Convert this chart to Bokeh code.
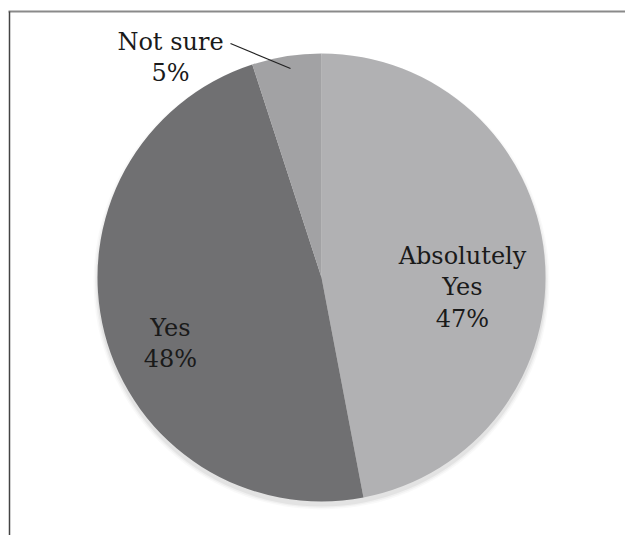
import math
from bokeh.plotting import figure
from bokeh.models import Range1d, ColumnDataSource
from bokeh.core.properties import value
from bokeh.embed import file_html
from bokeh.resources import INLINE

categories = ["Absolutely Yes", "Yes", "Not sure"]
percents = [47, 48, 5]
label_texts = ["Absolutely\nYes\n47%", "Yes\n48%", "Not sure\n5%"]
colors = ["#b1b1b3", "#707072", "#a2a2a4"]

W, H = 625, 535
cx, cy, R = 321, H - 277, 224

p = figure(width=W, height=H, output_backend="svg", toolbar_location=None,
           x_range=Range1d(0, W), y_range=Range1d(0, H), min_border=0)
p.axis.visible = False
p.grid.visible = False
p.outline_line_color = None
p.background_fill_color = "white"

# soft shadow
for i, a in enumerate([0.025, 0.035, 0.05]):
    p.circle(x=[cx], y=[cy - 4], radius=R + 4 - 1.5 * i, fill_color="#000000",
             fill_alpha=a, line_color=None)

total = sum(percents)
starts, ends = [], []
ang = math.pi / 2
for v in percents:
    sweep = 2 * math.pi * v / total
    starts.append(ang)
    ends.append(ang - sweep)
    ang -= sweep

src = ColumnDataSource(dict(cat=categories, start=starts, end=ends, color=colors))
p.wedge(x=cx, y=cy, radius=R, start_angle="start", end_angle="end",
        direction="clock", fill_color="color", line_color=None, source=src)

# labels
lx = [462, 170, 170]
ly = [H - 287, H - 343, H - 57]
p.text(x=lx, y=ly, text=label_texts, text_align="center", text_baseline="middle",
       text_font=value("DejaVu Serif"), text_font_size="24px",
       text_line_height=1.12, text_color="#1a1a1a")

# leader line for Not sure
p.segment(x0=[230], y0=[H - 43], x1=[290], y1=[H - 68], line_color="#222222", line_width=1.2)

# frame lines
p.segment(x0=[8], y0=[H - 11], x1=[W], y1=[H - 11], line_color="#8a8a8a", line_width=2)
p.segment(x0=[9], y0=[H - 11], x1=[9], y1=[0], line_color="#444444", line_width=1.5)

open("out.html", "w").write(file_html(p, INLINE))
